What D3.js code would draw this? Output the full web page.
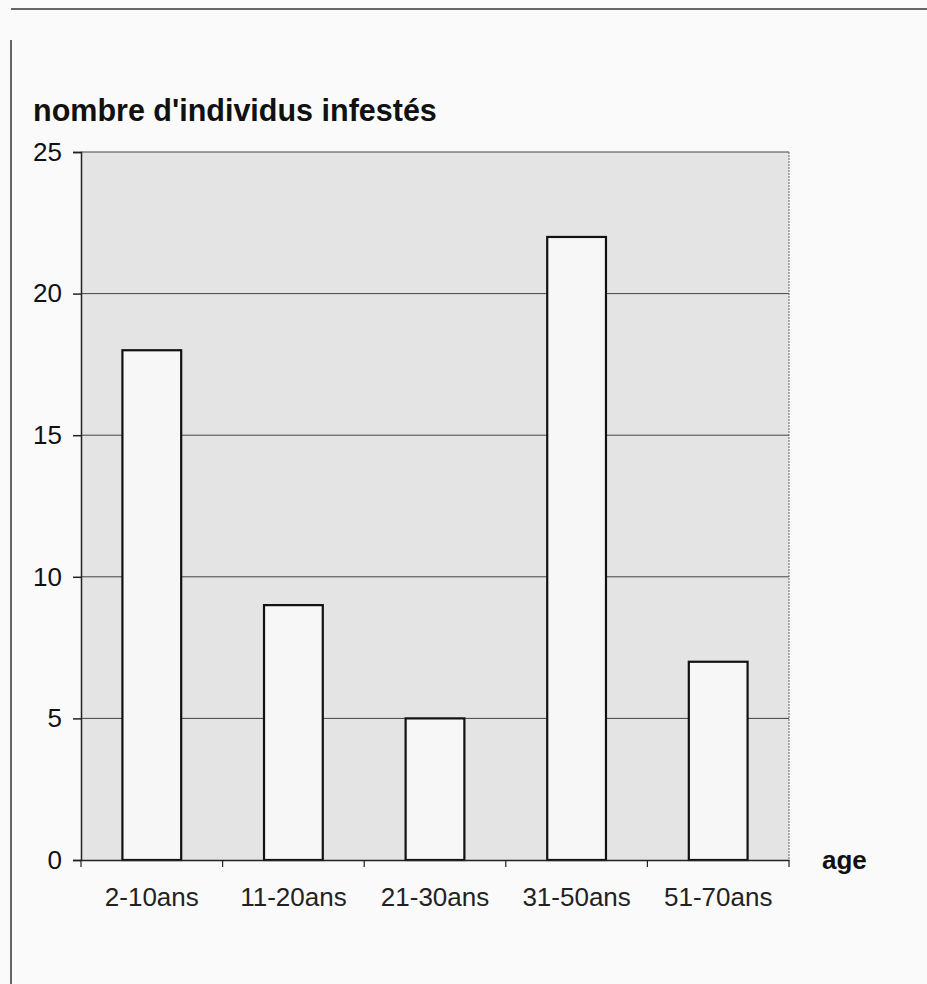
<!DOCTYPE html>
<html><head><meta charset="utf-8">
<script src="https://cdn.jsdelivr.net/npm/d3@7"></script>
<style>html,body{margin:0;padding:0;background:#fafafa;}svg{display:block;}</style>
</head><body>
<script>
const categories = ["2-10ans","11-20ans","21-30ans","31-50ans","51-70ans"];
const values = [18, 9, 5, 22, 7];
const yTicks = [0, 5, 10, 15, 20, 25];
const yTitle = "nombre d'individus infestés";
const xTitle = "age";

const W = 927, H = 984;
const FONT = "Liberation Sans, Arial, sans-serif";
const svg = d3.select("body").append("svg").attr("width", W).attr("height", H);
svg.append("rect").attr("width", W).attr("height", H).attr("fill", "#fafafa");

// frame lines
svg.append("line").attr("x1", 11).attr("x2", W).attr("y1", 9).attr("y2", 9).attr("stroke", "#333").attr("stroke-width", 1.5);
svg.append("line").attr("x1", 11).attr("x2", 11).attr("y1", 40).attr("y2", H).attr("stroke", "#333").attr("stroke-width", 1.5);

const L = 81, R = 789, T = 152, B = 860;
const x = d3.scaleBand().domain(categories).range([L, R]).paddingInner(0.585).paddingOuter(0.2925);
const y = d3.scaleLinear().domain([0, 25]).range([B, T]);

svg.append("rect").attr("x", L).attr("y", T).attr("width", R - L).attr("height", B - T).attr("fill", "#e4e4e4");

// gridlines
svg.append("g").selectAll("line").data(yTicks.filter(d => d > 0)).join("line")
  .attr("x1", L).attr("x2", R).attr("y1", d => y(d)).attr("y2", d => y(d))
  .attr("stroke", "#444").attr("stroke-width", 1);
// right border
svg.append("line").attr("x1", R).attr("x2", R).attr("y1", T).attr("y2", B).attr("stroke", "#666").attr("stroke-width", 1).attr("stroke-dasharray", "2,1");

// bars
svg.append("g").selectAll("rect").data(values).join("rect")
  .attr("x", (d, i) => x(categories[i]))
  .attr("y", d => y(d))
  .attr("width", x.bandwidth())
  .attr("height", d => B - y(d))
  .attr("fill", "#f7f7f7").attr("stroke", "#111").attr("stroke-width", 2.2);

// y axis
const yAxis = d3.axisLeft(y).tickValues(yTicks).tickSize(8).tickPadding(11);
const gy = svg.append("g").attr("transform", `translate(${L},0)`).call(yAxis);
gy.select(".domain").attr("stroke", "#222").attr("stroke-width", 1.5);
gy.selectAll(".tick line").attr("stroke", "#222").attr("stroke-width", 1.5);
gy.selectAll("text").attr("font-family", FONT).attr("font-size", 26).attr("fill", "#111");

// x axis
const xb = d3.scaleBand().domain(categories).range([L, R]);
const xAxis = d3.axisBottom(xb).tickSize(0).tickPadding(28);
const gx = svg.append("g").attr("transform", `translate(0,${B})`).call(xAxis);
gx.select(".domain").attr("stroke", "#222").attr("stroke-width", 1.5);
gx.selectAll("text").attr("font-family", FONT).attr("font-size", 26).attr("fill", "#222");
// boundary ticks
const bounds = categories.map(c => xb(c)).concat([R]);
svg.append("g").selectAll("line").data(bounds).join("line")
  .attr("x1", d => d).attr("x2", d => d).attr("y1", B).attr("y2", B + 7)
  .attr("stroke", "#222").attr("stroke-width", 1.2);

// titles
svg.append("text").attr("x", 33).attr("y", 121).text(yTitle)
  .attr("font-family", FONT).attr("font-weight", "bold").attr("font-size", 30.5).attr("fill", "#111");
svg.append("text").attr("x", 822).attr("y", 869).text(xTitle)
  .attr("font-family", FONT).attr("font-weight", "bold").attr("font-size", 26).attr("fill", "#111");
</script>
</body></html>
